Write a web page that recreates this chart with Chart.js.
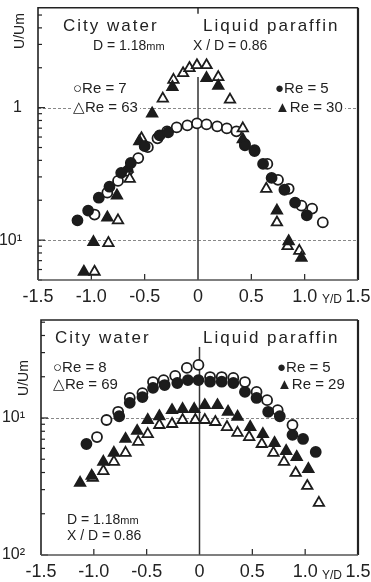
<!DOCTYPE html>
<html>
<head>
<meta charset="utf-8">
<script src="https://cdn.jsdelivr.net/npm/chart.js@4.4.1/dist/chart.umd.min.js"></script>
<style>
  body { margin: 0; background: #fff; }
  #wrap { position: relative; width: 371px; height: 582px; overflow: hidden; background: #fff; }
  canvas { position: absolute; left: 0; }
  .t { position: absolute; font-family: "Liberation Sans", Arial, sans-serif; color: #222; line-height: 1; white-space: nowrap; transform: translateY(-50%); }
  .title { font-size: 17px; letter-spacing: 2px; }
  .re { font-size: 15px; background: #fff; padding: 0 2px; }
  .geo { font-size: 14px; }
  .small { font-size: 11px; }
  .ylab { font-size: 14px; transform: translate(-50%, -50%) rotate(-90deg); }
  .yd { font-size: 12px; }
</style>
</head>
<body>
<div id="wrap">
  <canvas id="topChart" width="371" height="310" style="top:0"></canvas>
  <canvas id="bottomChart" width="371" height="282" style="top:300px"></canvas>

  <div class="t ylab" style="left:19px;top:31px">U/Um</div>
  <div class="t title" style="left:63px;top:25px">City water</div>
  <div class="t title" style="left:203px;top:25px">Liquid paraffin</div>
  <div class="t geo" style="left:93px;top:45px">D = 1.18<span class="small">mm</span></div>
  <div class="t geo" style="left:193px;top:45px">X / D = 0.86</div>
  <div class="t re" style="left:71px;top:87px">○Re = 7</div>
  <div class="t re" style="left:71px;top:106px">△Re = 63</div>
  <div class="t re" style="left:273px;top:87px">●Re = 5</div>
  <div class="t re" style="left:273px;top:106px">▲Re = 30</div>
  <div class="t yd" style="left:322px;top:299px">Y/D</div>

  <div class="t ylab" style="left:23px;top:378px">U/Um</div>
  <div class="t title" style="left:55px;top:337px">City water</div>
  <div class="t title" style="left:203px;top:337px">Liquid paraffin</div>
  <div class="t re" style="left:51px;top:366px">○Re = 8</div>
  <div class="t re" style="left:51px;top:383px">△Re = 69</div>
  <div class="t re" style="left:275px;top:366px">●Re = 5</div>
  <div class="t re" style="left:275px;top:383px">▲Re = 29</div>
  <div class="t geo" style="left:67px;top:519px">D = 1.18<span class="small">mm</span></div>
  <div class="t geo" style="left:67px;top:535px">X / D = 0.86</div>
  <div class="t yd" style="left:322px;top:575px">Y/D</div>
</div>

<script>
// top panel
const topRe7X = [-0.97, -0.85, -0.75, -0.66, -0.56, -0.47, -0.38, -0.29, -0.20, -0.10, -0.01, 0.08, 0.18, 0.27, 0.36, 0.44, 0.53, 0.65, 0.75, 0.85, 0.97, 1.07, 1.17];
const topRe7Y = [0.156, 0.228, 0.280, 0.333, 0.416, 0.503, 0.587, 0.662, 0.709, 0.734, 0.760, 0.747, 0.722, 0.697, 0.662, 0.530, 0.478, 0.376, 0.285, 0.244, 0.182, 0.173, 0.136];
const topRe5X = [-1.13, -1.03, -0.93, -0.83, -0.72, -0.63, -0.50, -0.36, -0.28, 0.44, 0.53, 0.61, 0.69, 0.81, 0.91, 1.02];
const topRe5Y = [0.141, 0.167, 0.209, 0.253, 0.322, 0.382, 0.512, 0.618, 0.651, 0.52, 0.47, 0.376, 0.295, 0.240, 0.192, 0.154];
const topRe30X = [-1.07, -0.98, -0.85, -0.76, -0.66, -0.55, -0.43, -0.24, 0.08, 0.19, 0.42, 0.74, 0.85, 0.97];
const topRe30Y = [0.0577, 0.0966, 0.148, 0.217, 0.345, 0.557, 0.902, 1.43, 1.67, 1.46, 0.577, 0.167, 0.098, 0.0734];
const topRe63X = [-0.97, -0.84, -0.75, -0.64, -0.53, -0.33, -0.23, -0.14, -0.08, -0.01, 0.08, 0.19, 0.30, 0.42, 0.64, 0.74, 0.84, 0.95];
const topRe63Y = [0.0577, 0.095, 0.141, 0.290, 0.587, 1.17, 1.62, 1.82, 1.99, 2.09, 2.09, 1.70, 1.15, 0.697, 0.244, 0.136, 0.090, 0.083];

// bottom panel
const botRe8X = [-0.97, -0.88, -0.77, -0.66, -0.54, -0.44, -0.34, -0.23, -0.12, -0.01, 0.10, 0.21, 0.32, 0.43, 0.54, 0.64, 0.74, 0.88];
const botRe8Y = [0.0726, 0.0967, 0.111, 0.140, 0.152, 0.183, 0.189, 0.203, 0.232, 0.244, 0.199, 0.199, 0.196, 0.183, 0.155, 0.135, 0.114, 0.0889];
const botRe5X = [-1.07, -0.76, -0.66, -0.54, -0.44, -0.33, -0.21, -0.11, -0.01, 0.10, 0.21, 0.32, 0.43, 0.54, 0.65, 0.76, 0.88, 0.98, 1.10];
const botRe5Y = [0.0646, 0.103, 0.129, 0.142, 0.166, 0.174, 0.180, 0.189, 0.189, 0.184, 0.184, 0.180, 0.155, 0.140, 0.111, 0.103, 0.0752, 0.0703, 0.0565];
const botRe29X = [-1.13, -1.02, -0.91, -0.81, -0.70, -0.59, -0.49, -0.38, -0.26, -0.16, -0.05, 0.05, 0.17, 0.27, 0.36, 0.48, 0.60, 0.71, 0.82, 0.92, 1.03];
const botRe29Y = [0.0336, 0.0378, 0.0478, 0.0556, 0.0703, 0.0804, 0.0967, 0.103, 0.114, 0.116, 0.116, 0.124, 0.124, 0.111, 0.102, 0.0859, 0.0763, 0.0657, 0.0574, 0.0519, 0.0424];
const botRe69X = [-1.01, -0.91, -0.81, -0.70, -0.58, -0.49, -0.38, -0.26, -0.16, -0.04, 0.05, 0.15, 0.26, 0.36, 0.47, 0.59, 0.70, 0.80, 0.91, 1.02, 1.13];
const botRe69Y = [0.0365, 0.0410, 0.0478, 0.0556, 0.0669, 0.0763, 0.0889, 0.0904, 0.0967, 0.0967, 0.0967, 0.0935, 0.0859, 0.0778, 0.0726, 0.0646, 0.0556, 0.0478, 0.0397, 0.0319, 0.0240];

const xTicks = [-1.5, -1.0, -0.5, 0, 0.5, 1.0, 1.5];
const sup = { 1: "¹", 2: "²" };

const ink = "#1c1c1c";
const pts = (xs, ys) => xs.map((x, i) => ({ x, y: ys[i] }));

function series(xs, ys, style, filled) {
  return {
    data: pts(xs, ys),
    pointStyle: style,
    pointRadius: style === "triangle" ? 6 : 5,
    borderWidth: 1.8,
    borderColor: ink,
    backgroundColor: filled ? ink : "#fff",
    showLine: false
  };
}

const isRound = v => {
  const m = v / Math.pow(10, Math.floor(Math.log10(v) + 1e-9));
  return Math.abs(m - Math.round(m)) < 1e-6;
};

const refLines = {
  id: "refLines",
  beforeDatasetsDraw(chart, args, o) {
    const { ctx, chartArea: a, scales: { x, y } } = chart;
    ctx.save();
    ctx.strokeStyle = "#888";
    ctx.lineWidth = 1;
    ctx.setLineDash([3, 2]);
    o.dashed.forEach(v => {
      const py = Math.round(y.getPixelForValue(v)) + 0.5;
      ctx.beginPath();
      ctx.moveTo(a.left, py);
      ctx.lineTo(a.right, py);
      ctx.stroke();
    });
    ctx.setLineDash([]);
    ctx.strokeStyle = "#333";
    ctx.lineWidth = 1.5;
    const px = x.getPixelForValue(0);
    ctx.beginPath();
    ctx.moveTo(px, a.bottom);
    ctx.lineTo(px, y.getPixelForValue(o.zeroTop));
    if (o.topTick) {
      ctx.moveTo(px, a.top);
      ctx.lineTo(px, a.top + 6);
    }
    ctx.stroke();
    ctx.restore();
  },
  afterDraw(chart) {
    const { ctx, chartArea: a, scales: { x, y } } = chart;
    ctx.save();
    ctx.strokeStyle = "#222";
    ctx.lineWidth = 1.2;
    y.ticks.forEach(t => {
      if (!isRound(t.value)) return;
      const py = y.getPixelForValue(t.value);
      const len = t.label ? 7 : 4;
      ctx.beginPath();
      ctx.moveTo(a.left, py);
      ctx.lineTo(a.left + len, py);
      ctx.stroke();
    });
    x.ticks.forEach(t => {
      if (t.value === 0 || Math.abs(t.value) === 1.5) return;
      const px = x.getPixelForValue(t.value);
      ctx.beginPath();
      ctx.moveTo(px, a.bottom);
      ctx.lineTo(px, a.bottom - 6);
      ctx.stroke();
    });
    ctx.lineWidth = 1.6;
    ctx.strokeStyle = "#222";
    ctx.beginPath();
    ctx.moveTo(a.left, a.bottom);
    ctx.lineTo(a.left, a.top);
    ctx.lineTo(a.right, a.top);
    ctx.stroke();
    ctx.lineWidth = 2.2;
    ctx.beginPath();
    ctx.moveTo(a.right, a.top);
    ctx.lineTo(a.right, a.bottom);
    ctx.stroke();
    ctx.strokeStyle = "#555";
    ctx.lineWidth = 1.5;
    ctx.beginPath();
    ctx.moveTo(a.left, a.bottom);
    ctx.lineTo(a.right, a.bottom);
    ctx.stroke();
    ctx.restore();
  }
};

function makeChart(id, datasets, p) {
  return new Chart(document.getElementById(id), {
    type: "scatter",
    data: { datasets },
    plugins: [refLines],
    options: {
      responsive: false,
      animation: false,
      devicePixelRatio: 1,
      layout: { padding: { top: p.padTop, right: 13, left: 0, bottom: 0 } },
      plugins: {
        legend: { display: false },
        tooltip: { enabled: false },
        refLines: { dashed: p.dashed, zeroTop: p.zeroTop, topTick: p.topTick }
      },
      scales: {
        x: {
          type: "linear",
          min: -1.5,
          max: 1.5,
          afterBuildTicks: s => { s.ticks = xTicks.map(v => ({ value: v })); },
          afterFit: s => { s.height = p.xHeight; s.paddingLeft = 0; s.paddingRight = 0; },
          grid: { display: false },
          border: { display: false },
          ticks: {
            autoSkip: false,
            maxRotation: 0,
            padding: -2,
            color: "#222",
            font: { family: "Liberation Sans", size: 18 },
            callback: v => v === 0 ? "0" : v.toFixed(1)
          }
        },
        y: {
          type: "logarithmic",
          min: p.yMin,
          max: p.yMax,
          afterFit: s => { s.width = p.yWidth; s.paddingTop = 0; s.paddingBottom = 0; },
          grid: { display: false },
          border: { display: false },
          ticks: {
            autoSkip: false,
            padding: p.yPad,
            color: "#222",
            font: { family: "Liberation Sans", size: 16 },
            callback: v => {
              const l = Math.log10(v);
              const r = Math.round(l);
              if (Math.abs(l - r) > 1e-6) return "";
              return r === 0 ? "1" : "10" + sup[-r];
            }
          }
        }
      }
    }
  });
}

makeChart("topChart", [
  series(topRe5X, topRe5Y, "circle", true),
  series(topRe30X, topRe30Y, "triangle", true),
  series(topRe63X, topRe63Y, "triangle", false),
  series(topRe7X, topRe7Y, "circle", false)
], { yMin: 0.05, yMax: 5.67, padTop: 5, xHeight: 30, yWidth: 38, yPad: 8, dashed: [1, 0.1], zeroTop: 1.7, topTick: true });

makeChart("bottomChart", [
  series(botRe5X, botRe5Y, "circle", true),
  series(botRe29X, botRe29Y, "triangle", true),
  series(botRe69X, botRe69Y, "triangle", false),
  series(botRe8X, botRe8Y, "circle", false)
], { yMin: 0.01, yMax: 0.519, padTop: 20, xHeight: 27, yWidth: 41, yPad: 8, dashed: [0.1], zeroTop: 0.33, topTick: false });
</script>
</body>
</html>
